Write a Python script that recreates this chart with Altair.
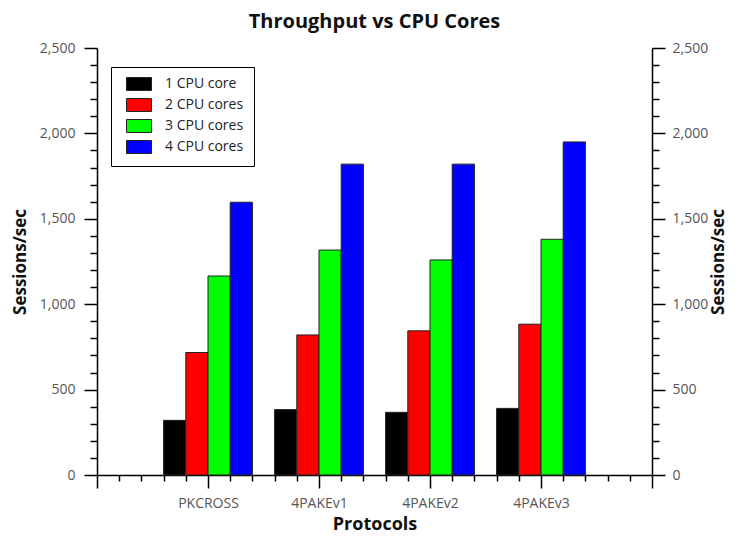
import altair as alt
import pandas as pd

protocols = ["PKCROSS", "4PAKEv1", "4PAKEv2", "4PAKEv3"]
cores = ["1 CPU core", "2 CPU cores", "3 CPU cores", "4 CPU cores"]
core1 = [320, 383, 367, 390]
core2 = [717, 820, 844, 883]
core3 = [1165, 1317, 1259, 1380]
core4 = [1597, 1820, 1820, 1950]
colors = ["#000000", "#ff0000", "#00ff00", "#0000ff"]

series = [core1, core2, core3, core4]
rows = []
for pi, p in enumerate(protocols):
    for ci, c in enumerate(cores):
        rows.append({"protocol": p, "pidx": pi + 1, "core": c, "cidx": ci, "value": series[ci][pi]})
df = pd.DataFrame(rows)

FONT = "Open Sans"
label_expr = " : ".join(
    f"datum.value == {i + 1} ? '{p}'" for i, p in enumerate(protocols)
) + " : ''"
x_vals = [round(k * 0.2, 1) for k in range(26)]
y_vals = list(range(0, 2600, 100))

y_scale = alt.Scale(domain=[0, 2500], nice=False, zero=True)
x_scale = alt.Scale(domain=[0, 5], nice=False, zero=False, padding=0)

base = alt.Chart(df).transform_calculate(
    x0="datum.pidx - 0.4 + 0.2 * datum.cidx",
    x1="datum.pidx - 0.2 + 0.2 * datum.cidx",
)

y_axis_common = dict(
    values=y_vals,
    labelExpr="datum.value % 500 == 0 ? format(datum.value, ',') : ''",
    tickSize={"condition": {"test": "datum.value % 500 == 0", "value": 13}, "value": 7},
    labelOverlap=False,
    grid=False,
    domainColor="black",
    tickColor="black",
    domainWidth=1.5,
    tickWidth=1.5,
    labelFont=FONT,
    labelFontSize=14,
    labelColor="#555555",
    title="Sessions/sec",
    titleFont=FONT,
    titleFontSize=17,
    titleFontWeight="bold",
    titleColor="#111111",
)

bars = base.mark_bar(stroke="#222222", strokeWidth=1, orient="vertical").encode(
    x=alt.X(
        "x0:Q",
        scale=x_scale,
        axis=alt.Axis(
            values=x_vals,
            labelExpr=label_expr,
            tickSize={"condition": {"test": "abs(datum.value - round(datum.value)) < 0.01", "value": 13}, "value": 6},
            labelOverlap=False,
            labelFlush=False,
            grid=False,
            domainColor="black",
            tickColor="black",
            domainWidth=1.5,
            tickWidth=1.5,
            labelFont=FONT,
            labelFontSize=14,
            labelColor="#555555",
            labelPadding=8,
            title="Protocols",
            titleFont=FONT,
            titleFontSize=18,
            titleFontWeight="bold",
            titleColor="#111111",
            titlePadding=5,
        ),
    ),
    x2="x1:Q",
    y=alt.Y("value:Q", scale=y_scale,
            axis=alt.Axis(orient="left", titlePadding=10, labelPadding=9, **y_axis_common)),
    y2=alt.datum(0),
    color=alt.Color(
        "core:N",
        scale=alt.Scale(domain=cores, range=colors),
        legend=alt.Legend(
            title=None,
            orient="none",
            legendX=14,
            legendY=19,
            strokeColor="black",
            fillColor="white",
            padding=10,
            symbolType="M-2,-1.04H2V1.04H-2Z",
            symbolSize=156,
            symbolStrokeColor="#222222",
            symbolStrokeWidth=1,
            symbolOpacity=1,
            symbolOffset=11,
            labelFont=FONT,
            labelFontSize=14,
            labelColor="#222222",
            labelOffset=19,
            rowPadding=3,
        ),
    ),
)

right = base.mark_rule(opacity=0).encode(
    y=alt.Y(
        "value:Q",
        scale=y_scale,
        axis=alt.Axis(orient="right", titleAngle=270, titleBaseline="top", titlePadding=3,
                      labelPadding=7, **y_axis_common),
    ),
)

chart = alt.layer(bars, right).resolve_axis(y="independent").properties(
    width=555,
    height=427,
    autosize=alt.AutoSizeParams(type="none"),
    padding={"left": 89, "top": 40, "right": 78, "bottom": 58},
    title=alt.Title(
        "Throughput vs CPU Cores",
        font=FONT,
        fontSize=20,
        fontWeight="bold",
        color="#111111",
        anchor="middle",
        offset=9,
    ),
).configure_view(stroke=None)

chart.save("out.html", embed_options={"renderer": "svg", "actions": False})
